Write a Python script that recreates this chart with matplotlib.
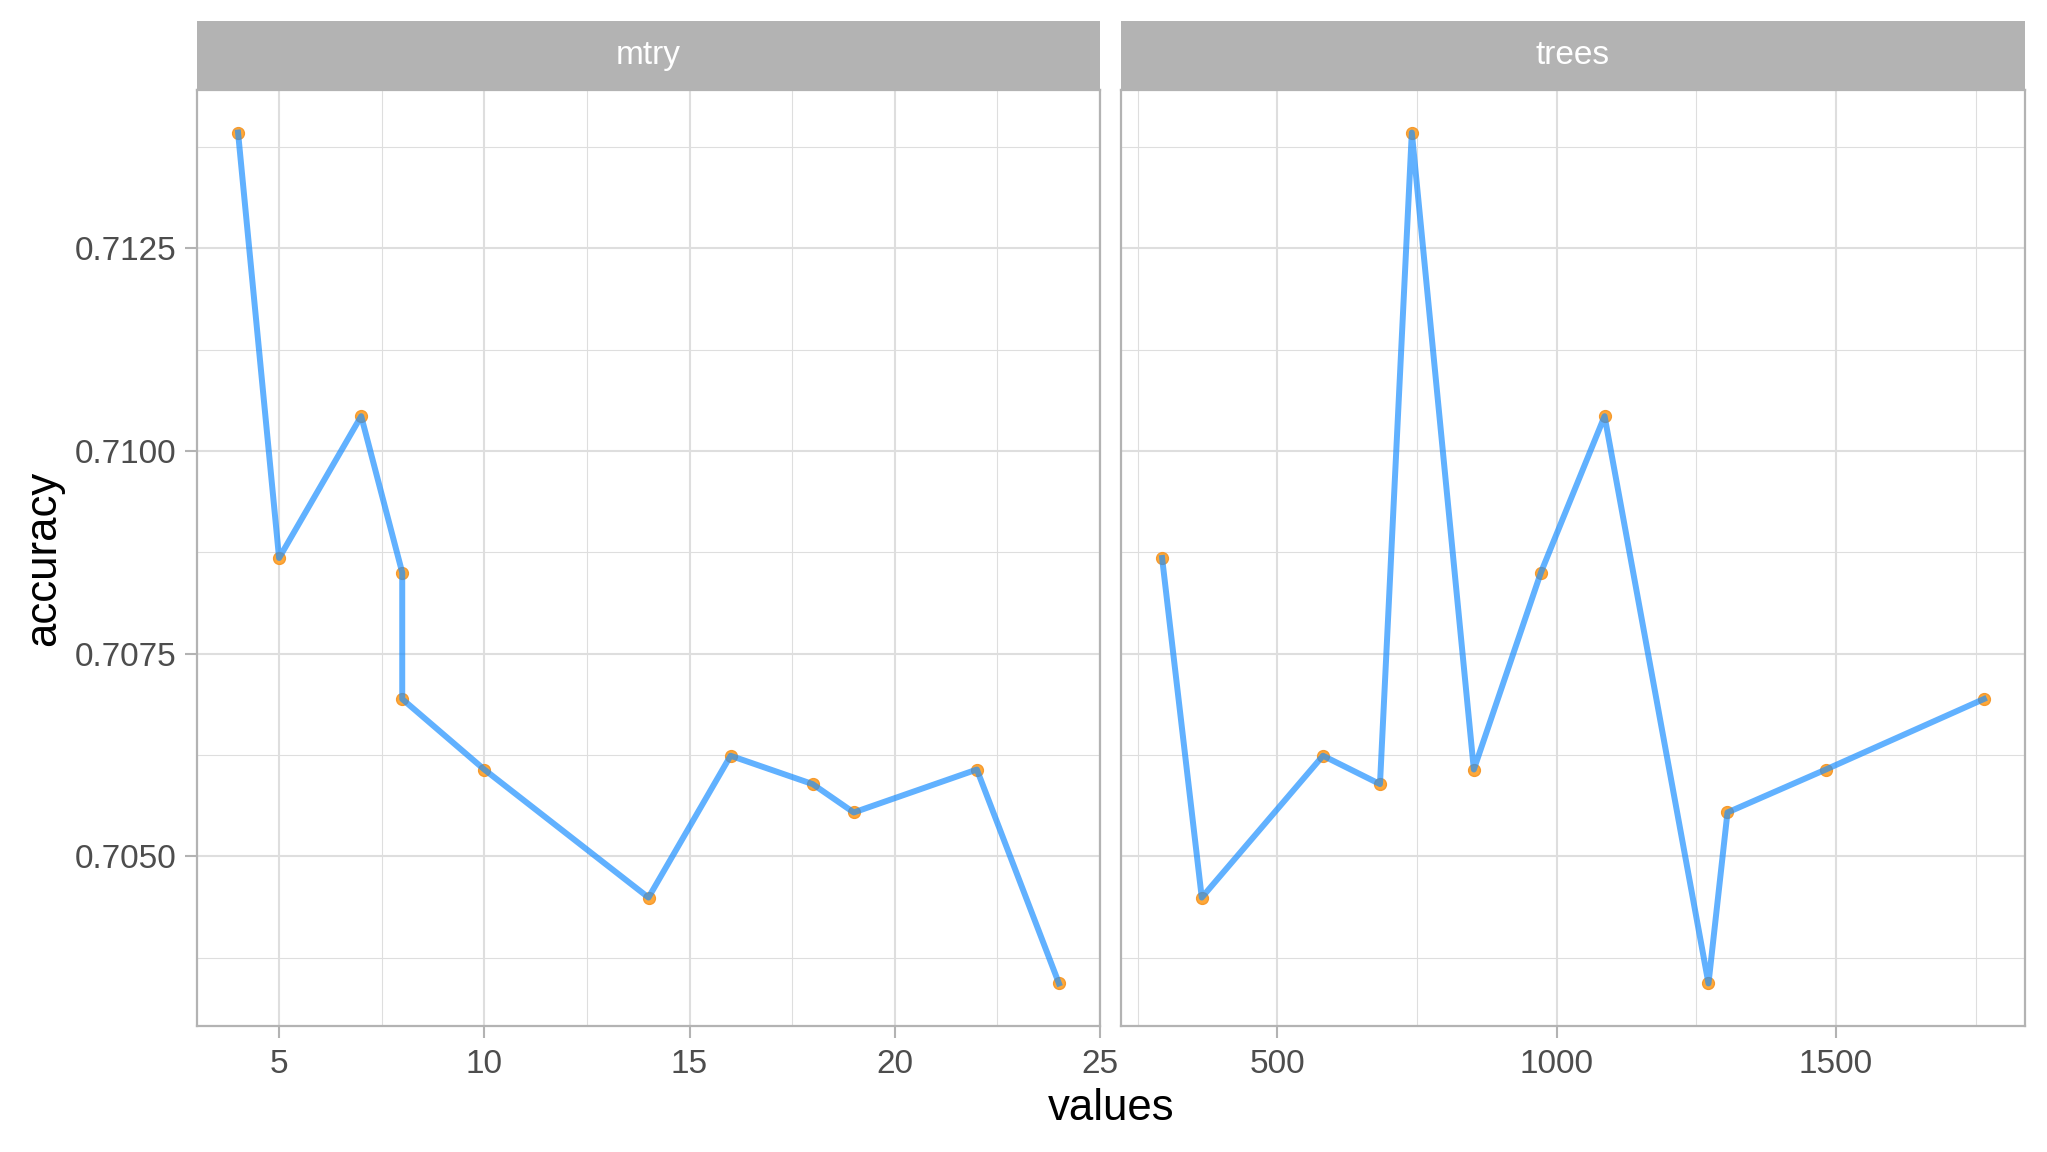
import matplotlib
matplotlib.use('Agg')
import matplotlib.pyplot as plt
from matplotlib.ticker import FixedLocator, FormatStrFormatter

plt.rcParams['font.family'] = ['Liberation Sans', 'DejaVu Sans']

# tuning results
mtry = [4, 5, 7, 8, 8, 10, 14, 16, 18, 19, 22, 24]
mtry_acc = [0.71393, 0.70868, 0.71043, 0.70850, 0.70694, 0.70607,
            0.70449, 0.70624, 0.70589, 0.70554, 0.70607, 0.70343]

trees = [294, 365, 582, 684, 741, 852, 972, 1086, 1272, 1306, 1482, 1765]
trees_acc = [0.70868, 0.70449, 0.70624, 0.70589, 0.71393, 0.70607,
             0.70850, 0.71043, 0.70343, 0.70554, 0.70607, 0.70694]

facets = ['mtry', 'trees']
y_ticks = [0.7050, 0.7075, 0.7100, 0.7125]
y_minor = [0.70375, 0.70625, 0.70875, 0.71125, 0.71375]
mtry_ticks = [5, 10, 15, 20, 25]
mtry_minor = [7.5, 12.5, 17.5, 22.5]
trees_ticks = [500, 1000, 1500]
trees_minor = [250, 750, 1250, 1750]

#colours close to ggplot theme_light
border = '#B3B3B3'
grid = '#DEDEDE'
txt = '#4D4D4D'

W, H = 2047, 1152
fig = plt.figure(figsize=(W / 100, H / 100), dpi=100)

#panel boxes in pixels: left, right
panels = [(197, 1100), (1121, 2025)]
top, bottom = 90, 1026
strip_top = 21

data = [(mtry, mtry_acc, mtry_ticks, mtry_minor),
        (trees, trees_acc, trees_ticks, trees_minor)]

ymin = min(mtry_acc)
ymax = max(mtry_acc)
ypad = (ymax - ymin) * 0.05

for i, (l, r) in enumerate(panels):
    x, y, xt, xm = data[i]
    ax = fig.add_axes([l / W, 1 - bottom / H, (r - l) / W, (bottom - top) / H])

    # points under a semi transparent line
    ax.plot(x, y, 'o', color='#FFA838', markeredgecolor='#F59A2E',
            markersize=8.5, markeredgewidth=1, zorder=3)
    ax.plot(x, y, color='dodgerblue', alpha=0.7, linewidth=4.3, zorder=4,
            solid_joinstyle='round')

    xpad = (max(x) - min(x)) * 0.05
    ax.set_xlim(min(x) - xpad, max(x) + xpad)
    ax.set_ylim(ymin - ypad, ymax + ypad)

    ax.xaxis.set_major_locator(FixedLocator(xt))
    ax.xaxis.set_minor_locator(FixedLocator(xm))
    ax.yaxis.set_major_locator(FixedLocator(y_ticks))
    ax.yaxis.set_minor_locator(FixedLocator(y_minor))
    ax.yaxis.set_major_formatter(FormatStrFormatter('%.4f'))

    ax.grid(which='major', color=grid, linewidth=1.5, zorder=0)
    ax.grid(which='minor', color=grid, linewidth=0.8, zorder=0)
    ax.set_axisbelow(True)

    for s in ax.spines.values():
        s.set_color(border)
        s.set_linewidth(1.6)

    ax.tick_params(which='major', length=8.5, width=1.5, color=border,
                   labelsize=24, labelcolor=txt, pad=6)
    ax.tick_params(axis='x', which='major', pad=8)
    ax.tick_params(which='minor', length=0)
    if i > 0:
        ax.tick_params(axis='y', which='both', left=False, labelleft=False)

    # facet strip on top of the panel
    sx = fig.add_axes([l / W, 1 - top / H, (r - l) / W, (top - strip_top) / H])
    sx.set_facecolor(border)
    sx.set_xticks([])
    sx.set_yticks([])
    for s in sx.spines.values():
        s.set_visible(False)
    sx.text(0.5, 0.5, facets[i], color='white', fontsize=24,
            ha='center', va='center', transform=sx.transAxes)

fig.text(1111 / W, 1 - 1109 / H, 'values', fontsize=31.5, color='black',
         ha='center', va='center')
fig.text(44 / W, 1 - 558 / H, 'accuracy', fontsize=31.5, color='black',
         ha='center', va='center', rotation=90)

fig.savefig('out.png', dpi=100)
